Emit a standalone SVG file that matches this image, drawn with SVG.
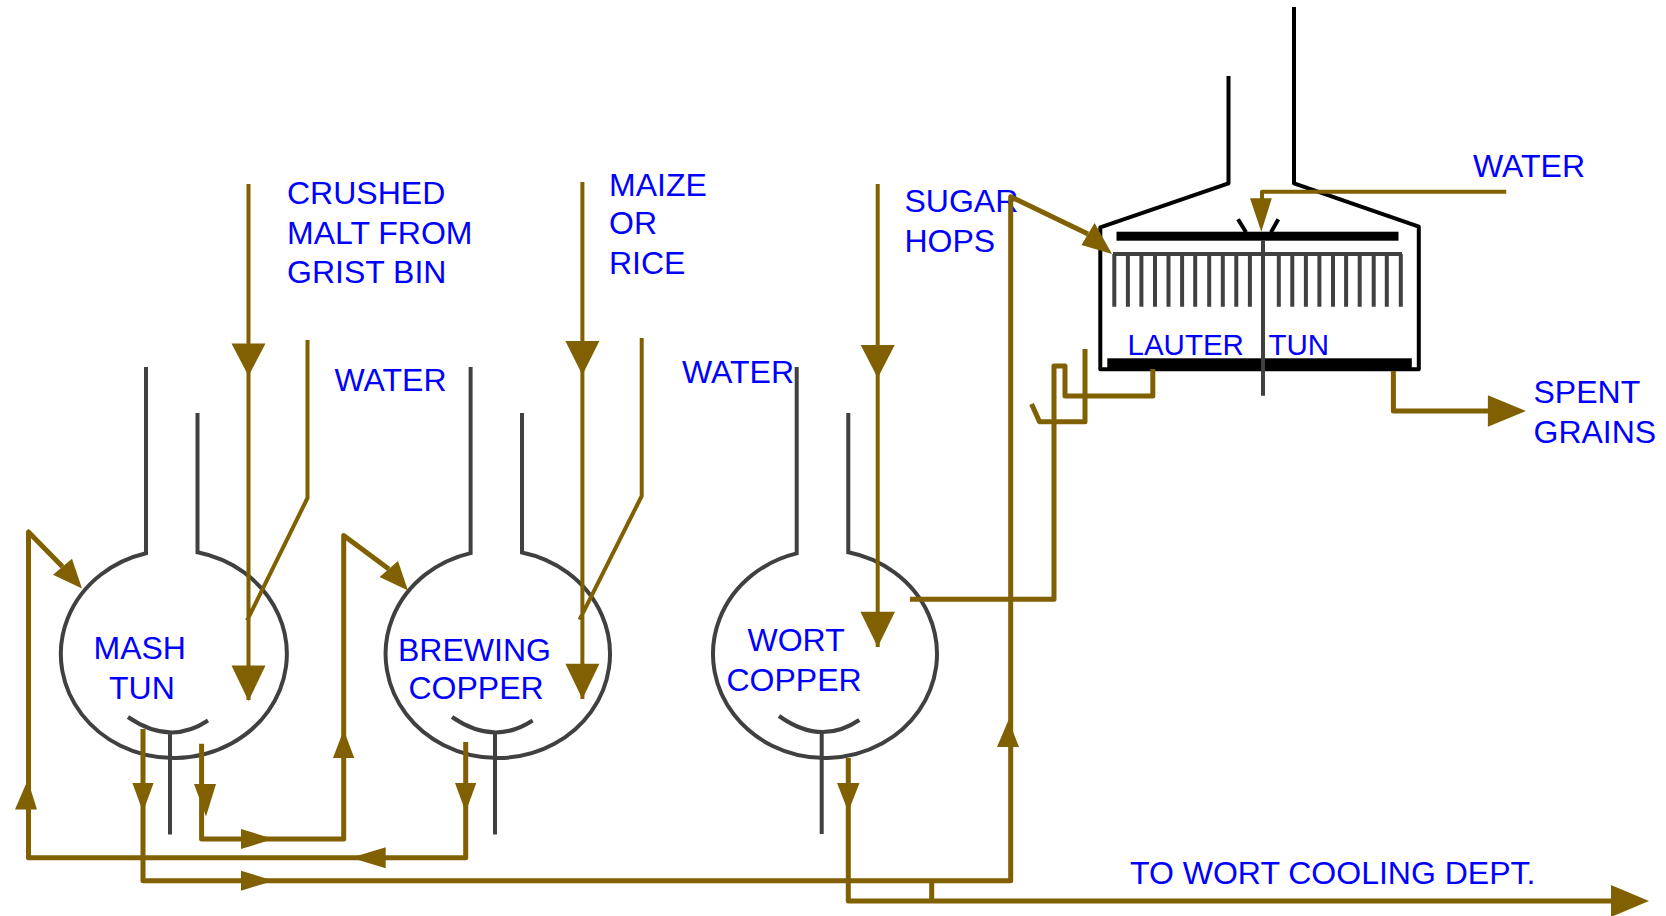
<svg xmlns="http://www.w3.org/2000/svg" width="1666" height="916" viewBox="0 0 1666 916">
<style>
.v{fill:none;stroke:#404040;stroke-width:4}
.k{fill:none;stroke:#000;stroke-width:4;stroke-linejoin:round}
.b{fill:none;stroke:#806000;stroke-width:5;stroke-linejoin:round}
.t{fill:none;stroke:#806000;stroke-width:4;stroke-linejoin:round}
.h{fill:#806000;stroke:none}
.bar{fill:#000}
text{font-family:"Liberation Sans",Arial,sans-serif;font-size:32px;fill:#0000ff}
</style>
<rect width="1666" height="916" fill="#fff"/>
<g id="mash-tun">
<path class="v" d="M146 367V553.200A113 104 0 1 0 197.500 552.300V413"/>
<path class="v" d="M128 717Q170 746 208 720.500M170 731V834.500"/>
<text x="93.500" y="659">MASH</text><text x="109" y="699">TUN</text>
</g>
<g id="brewing-copper">
<path class="v" d="M470.600 367V553.100A112.200 104 0 1 0 522 552.450V413"/>
<path class="v" d="M452 717Q494 746 532.600 720.500M495 731V834.500"/>
<text x="398" y="660.500">BREWING</text><text x="408.500" y="699">COPPER</text>
</g>
<g id="wort-copper">
<path class="v" d="M796.700 367V553.400A112 104 0 1 0 848.300 552.300V413"/>
<path class="v" d="M779 716Q821 746 859.300 720M821.700 731V834"/>
<text x="747.500" y="650.500">WORT</text><text x="726.500" y="690.500">COPPER</text>
</g>
<g id="lauter-tun">
<path class="k" d="M1228.500 76V183.300L1100.300 227.300V369.300H1418.800V226.700L1294 183.300V7"/>
<path class="k" d="M1238 219.300L1246 232.300M1278.300 219.300L1271 232.300"/>
<rect class="bar" x="1116.500" y="231.700" width="282" height="9"/>
<rect class="bar" x="1107.300" y="358.300" width="304.500" height="12.700"/>
<path class="v" d="M1113 254H1402M1114.300 254V306.700M1127.900 254V306.700M1141.400 254V306.700M1155 254V306.700M1168.500 254V306.700M1182.100 254V306.700M1195.200 254V306.700M1209.200 254V306.700M1222.800 254V306.700M1236.300 254V306.700M1249.900 254V306.700M1278.800 254V306.700M1292.300 254V306.700M1305.900 254V306.700M1319.400 254V306.700M1333 254V306.700M1346.100 254V306.700M1359.700 254V306.700M1373.700 254V306.700M1386.800 254V306.700M1400.800 254V306.700M1263 240V395.700"/>
<text x="1127.500" y="355" style="font-size:29.500px">LAUTER</text><text x="1268.500" y="355" style="font-size:29.500px">TUN</text>
</g>
<g id="labels">
<text x="287" y="204">CRUSHED</text><text x="287" y="244">MALT FROM</text><text x="287" y="282.500">GRIST BIN</text>
<text x="334.500" y="391">WATER</text>
<text x="609" y="196">MAIZE</text><text x="609" y="234">OR</text><text x="609" y="274">RICE</text>
<text x="682" y="382.500">WATER</text>
<text x="904.500" y="211.500">SUGAR</text><text x="904.500" y="252">HOPS</text>
<text x="1473" y="177">WATER</text>
<text x="1533.500" y="402.500">SPENT</text><text x="1533.500" y="443">GRAINS</text>
<text x="1130" y="884">TO WORT COOLING DEPT.</text>
</g>
<g id="connectors">
<path class="t" d="M248.500 184V700M307.500 340V498L247 620.700"/>
<polygon class="h" points="231.500,343.500 265.500,343.500 248.500,376"/>
<polygon class="h" points="231.500,665.600 265.500,665.600 248.500,701"/>
<path class="t" d="M582.400 182V699M641.700 338V496L579.600 619.600"/>
<polygon class="h" points="565.400,341 599.400,341 582.400,375"/>
<polygon class="h" points="565.400,663.700 599.400,663.700 582.400,699"/>
<path class="t" d="M877.700 184V647"/>
<polygon class="h" points="860.700,345 894.700,345 877.700,378"/>
<polygon class="h" points="860.400,611.700 895,611.700 877.700,647"/>
<path class="b" d="M62.500 566.700L28.500 532V857.700H465.700V742"/>
<polygon class="h" points="72,558.700 53,574.800 82,588.600"/>
<polygon class="h" points="15,809.500 37,809.500 27.700,780"/>
<polygon class="h" points="455,783 476.300,783 465.700,812"/>
<polygon class="h" points="351,857.700 385.700,847.200 385.700,868.200"/>
<path class="b" d="M143 729V880.700H1010.700V196.700L1088 234"/>
<polygon class="h" points="132.400,783 153.600,783 143,812"/>
<polygon class="h" points="241,870.700 241,890.700 273.500,880.700"/>
<polygon class="h" points="997,747 1019,747 1008.500,720"/>
<polygon class="h" points="1094.600,223 1081.500,245 1112,254"/>
<path class="b" d="M201.600 743.700V839H343.700V535.500L388.800 569"/>
<polygon class="h" points="194,784 216,784 206,816.500"/>
<polygon class="h" points="241,829 241,849 273.500,839"/>
<polygon class="h" points="333,758 354.300,758 343.700,730"/>
<polygon class="h" points="398,561 379.600,577 408,590.500"/>
<path class="b" d="M848.300 758V901H1612M931.700 880.700V901"/>
<polygon class="h" points="837,783 859.500,783 848.300,811.700"/>
<polygon class="h" points="1611,885 1611,917 1649,901"/>
<path class="b" d="M910 599.300H1054V366H1065V396H1152.800V369"/>
<path class="b" d="M1031.600 404L1039.500 421.700H1085V349"/>
<path class="t" d="M1506.200 191.700H1262V200"/>
<polygon class="h" points="1250,198.300 1271.800,198.300 1261.300,231.700"/>
<path class="b" d="M1393.400 371V411H1490"/>
<polygon class="h" points="1487.900,395.300 1487.900,426.700 1526,411"/>
</g>
</svg>
